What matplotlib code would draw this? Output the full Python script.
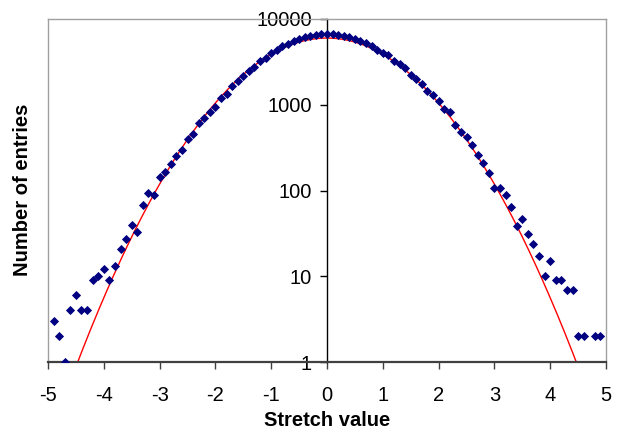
import matplotlib
matplotlib.use("Agg")
import matplotlib.pyplot as plt
import numpy as np
from matplotlib.lines import Line2D

plt.rcParams["font.family"] = ["Liberation Sans", "DejaVu Sans"]

# bin centres of the stretch histogram, -4.9 .. 4.9 in steps of 0.1
stretch_bins = np.linspace(-4.9, 4.9, 99)

# entries per bin (nan = empty bin)
entries_left = [
    3, 2, 1, 4, 6, 4, 4, 9, 10, 12,
    9, 13, 21, 27, 40, 33, 68, 94, 89, 143,
    166, 202, 253, 294, 402, 452, 608, 695, 830, 934,
    1208, 1346, 1668, 1908, 2144, 2494, 2779, 3238, 3540, 3985,
    4318, 4810, 5160, 5590, 5850, 6125, 6290, 6560, 6600, 6620,
]
entries_right = [
    6620, 6500, 6385, 6125, 5850, 5590, 5290, 4845, 4385, 3985,
    3775, 3265, 2965, 2663, 2240, 2012, 1760, 1460, 1310, 1105,
    892, 816, 585, 477, 421, 342, 262, 208, 161, 107,
    107, 88, 65, 39, 46, 31, 24, 17, 10, 15,
    9, 9, 7, 7, 2, 2, np.nan, 2, 2,
]
entries = np.array(entries_left + entries_right, dtype=float)

# gaussian fit drawn in red
fit_amplitude = 6000.0
fit_sigma = 1.071

y_ticks = [1, 10, 100, 1000, 10000]
y_tick_labels = ["1", "10", "100", "1000", "10000"]
x_ticks = [-5, -4, -3, -2, -1, 0, 1, 2, 3, 4, 5]

W, H = 619, 430
fig = plt.figure(figsize=(W / 100, H / 100), dpi=100)
ax = fig.add_axes([48 / W, 1 - 362 / H, (606 - 48) / W, (362 - 19) / H])

fit_x = np.linspace(-5, 5, 801)
fit_y = fit_amplitude * np.exp(-fit_x ** 2 / (2 * fit_sigma ** 2))
ax.plot(fit_x, fit_y, color="#ff0000", lw=1.0, zorder=2)
ax.plot(stretch_bins, entries, linestyle="none", marker="D", ms=3.9,
        mew=0.6, mec="#000080", mfc="#000080", zorder=3)

ax.set_yscale("log")
ax.set_xlim(-5, 5)
ax.set_ylim(1, 10000)
ax.minorticks_off()
ax.set_yticks(y_ticks)
ax.set_yticklabels(y_tick_labels)
ax.set_xticks(x_ticks)
ax.set_xticklabels([str(v) for v in x_ticks])

# y axis sits at x = 0, frame drawn in grey
ax.spines["left"].set_position(("data", 0))
ax.spines["left"].set_color("black")
ax.spines["left"].set_linewidth(1.0)
for side in ["top", "right"]:
    ax.spines[side].set_color("#a0a0a0")
    ax.spines[side].set_linewidth(1.0)
ax.spines["bottom"].set_color("#404040")
ax.spines["bottom"].set_linewidth(1.6)
ax.add_line(Line2D([0, 0], [0, 1], transform=ax.transAxes, color="#a0a0a0",
                   lw=1.0, clip_on=False, zorder=1))

ax.tick_params(axis="y", direction="out", length=5, width=1.0, color="black",
               labelsize=14.5, pad=6)
ax.tick_params(axis="x", direction="out", length=5, width=1.0, color="#404040",
               labelsize=14.5, pad=12)

fig.text(23 / W, 1 - 190 / H, "Number of entries", rotation=90,
         ha="center", va="center", fontsize=14.5, fontweight="bold")
fig.text(327 / W, 1 - 421 / H, "Stretch value",
         ha="center", va="center", fontsize=14.5, fontweight="bold")

fig.savefig("out.png", dpi=100)
